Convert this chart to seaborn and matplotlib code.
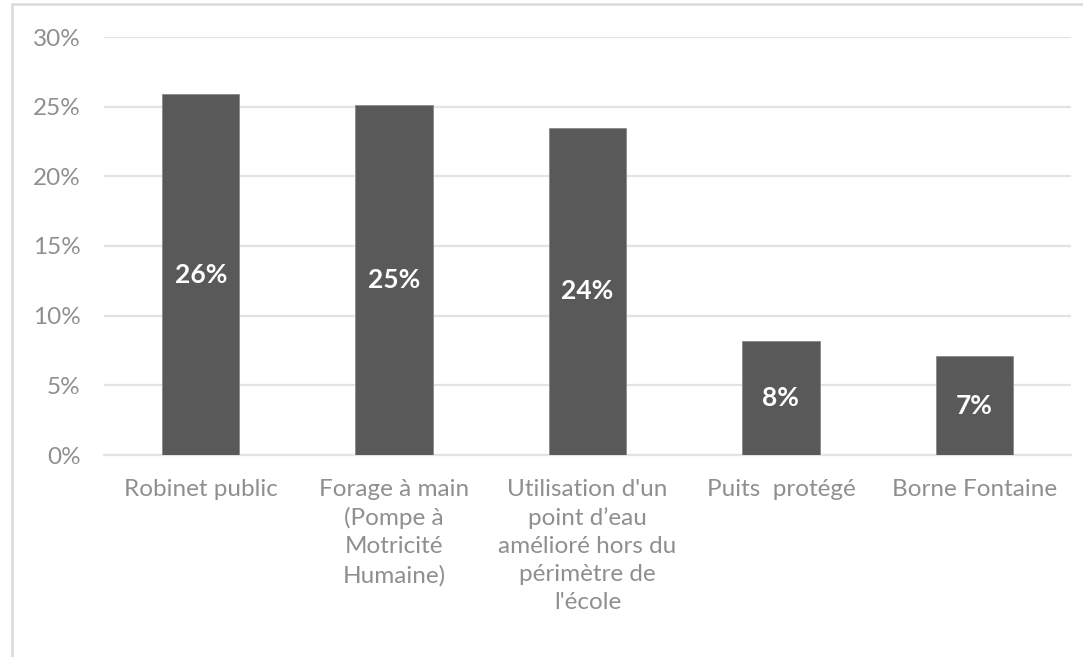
import numpy as np
import pandas as pd
import matplotlib
matplotlib.use("Agg")
import matplotlib.pyplot as plt
import seaborn as sns
from matplotlib.patches import Rectangle

# données
categories = [
    "Robinet public",
    "Forage à main\n(Pompe à\nMotricité\nHumaine)",
    "Utilisation d'un\npoint d’eau\namélioré hors du\npérimètre de\nl'école",
    "Puits  protégé",
    "Borne Fontaine",
]
valeurs = [25.9, 25.1, 23.5, 8.2, 7.1]
etiquettes = ["26%", "25%", "24%", "8%", "7%"]
yticks = [0, 5, 10, 15, 20, 25, 30]

df = pd.DataFrame({"cat": categories, "val": valeurs})

sns.set_style("white")
plt.rcParams["font.family"] = ["Lato", "DejaVu Sans"]

fig = plt.figure(figsize=(10.83, 6.57), dpi=100)
ax = fig.add_axes([104 / 1083, 1 - 455 / 657, (1071 - 104) / 1083, (455 - 37) / 657])

sns.barplot(data=df, x="cat", y="val", color="#595959", width=0.4,
            saturation=1, edgecolor="#8a8a8a", linewidth=0.6, ax=ax, zorder=3)

ax.set_ylim(0, 30)
ax.set_yticks(yticks)
ax.set_yticklabels([f"{t}%" for t in yticks])
ax.yaxis.grid(True, color="#e3e3e3", linewidth=1.6, zorder=0)
ax.set_axisbelow(True)
for s in ["top", "right", "left"]:
    ax.spines[s].set_visible(False)
ax.spines["bottom"].set_color("#e3e3e3")
ax.spines["bottom"].set_linewidth(1.6)
ax.tick_params(axis="both", length=0, colors="#8f8f8f", labelsize=17.5)
ax.tick_params(axis="x", pad=17)
ax.tick_params(axis="y", pad=17)
ax.set_xlabel("")
ax.set_ylabel("")
for lab in ax.get_xticklabels():
    lab.set_linespacing(1.42)

for bar, txt in zip(ax.patches, etiquettes):
    h = bar.get_height()
    ax.text(bar.get_x() + bar.get_width() / 2, h / 2, txt, ha="center", va="center",
            color="white", fontsize=19, fontweight="bold")

# cadre gris clair (haut et gauche)
fig.patches.append(Rectangle((12 / 1083, -0.1), 1.2, 1 - 4 / 657 + 0.1, transform=fig.transFigure,
                             fill=False, edgecolor="#d9d9d9", linewidth=1.8))

fig.savefig("out.png", dpi=100)
